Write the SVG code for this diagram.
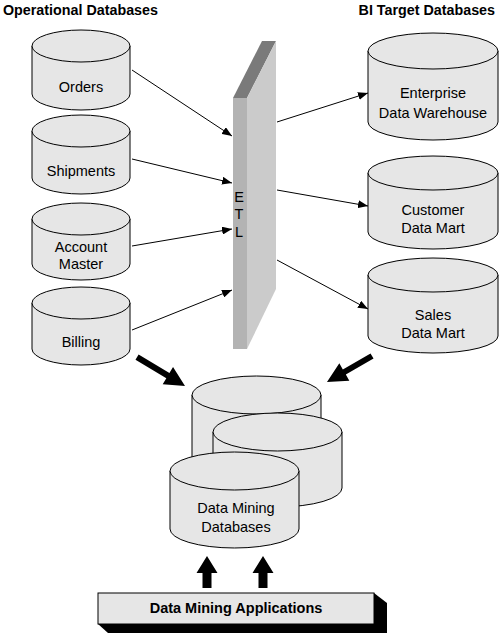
<svg xmlns="http://www.w3.org/2000/svg" width="500" height="634" viewBox="0 0 500 634">
<defs>
<style>
.cyl{fill:#e6e6e6;stroke:#000;stroke-width:1}
.lbl{font-family:"Liberation Sans",Arial,sans-serif;font-size:14.5px;text-anchor:middle;fill:#000}
.hdr{font-family:"Liberation Sans",Arial,sans-serif;font-size:14.3px;font-weight:bold;fill:#000}
.ln{stroke:#000;stroke-width:1;fill:none}
.big{fill:#000}
</style>
<marker id="ah" viewBox="0 0 10 8" refX="10" refY="4" markerWidth="10" markerHeight="8" markerUnits="userSpaceOnUse" orient="auto">
<path d="M0,0 L10,4 L0,8 Z" fill="#000"/>
</marker>
</defs>
<rect width="500" height="634" fill="#fff"/>
<text class="hdr" x="3" y="15">Operational Databases</text>
<text class="hdr" x="495" y="15" text-anchor="end">BI Target Databases</text>

<g id="orders">
<path class="cyl" d="M32,46 V94 A49,16 0 0 0 130,94 V46"/>
<ellipse class="cyl" cx="81" cy="46" rx="49" ry="16"/>
<text class="lbl" x="81" y="92">Orders</text>
</g>
<g id="shipments">
<path class="cyl" d="M32,131 V178 A49,16 0 0 0 130,178 V131"/>
<ellipse class="cyl" cx="81" cy="131" rx="49" ry="16"/>
<text class="lbl" x="81" y="176">Shipments</text>
</g>
<g id="account-master">
<path class="cyl" d="M32,219 V264 A49,16 0 0 0 130,264 V219"/>
<ellipse class="cyl" cx="81" cy="219" rx="49" ry="16"/>
<text class="lbl" x="81" y="252">Account</text>
<text class="lbl" x="81" y="269">Master</text>
</g>
<g id="billing">
<path class="cyl" d="M32,303 V349 A49,16 0 0 0 130,349 V303"/>
<ellipse class="cyl" cx="81" cy="303" rx="49" ry="16"/>
<text class="lbl" x="81" y="347">Billing</text>
</g>

<g id="etl">
<polygon points="233,98 247,98 276,41 262,41" fill="#7a7a7a"/>
<polygon points="247,98 276,41 276,289 247,349" fill="#cbcbcb"/>
<rect x="233" y="98" width="14" height="251" fill="#b3b3b3"/>
<text class="lbl" x="239" y="202" font-size="14">E</text>
<text class="lbl" x="239" y="219" font-size="14">T</text>
<text class="lbl" x="239" y="237" font-size="14">L</text>
</g>

<g id="edw">
<path class="cyl" d="M368,51 V122 A65,18 0 0 0 498,122 V51"/>
<ellipse class="cyl" cx="433" cy="51" rx="65" ry="18"/>
<text class="lbl" x="433" y="98">Enterprise</text>
<text class="lbl" x="433" y="118">Data Warehouse</text>
</g>
<g id="customer-dm">
<path class="cyl" d="M368,173 V232 A65,17 0 0 0 498,232 V173"/>
<ellipse class="cyl" cx="433" cy="173" rx="65" ry="17"/>
<text class="lbl" x="433" y="215">Customer</text>
<text class="lbl" x="433" y="233">Data Mart</text>
</g>
<g id="sales-dm">
<path class="cyl" d="M368,275 V336 A65,17 0 0 0 498,336 V275"/>
<ellipse class="cyl" cx="433" cy="275" rx="65" ry="17"/>
<text class="lbl" x="433" y="320">Sales</text>
<text class="lbl" x="433" y="338">Data Mart</text>
</g>

<g id="dm-databases">
<path class="cyl" d="M192,395 V470 A64.5,19 0 0 0 321,470 V395"/>
<ellipse class="cyl" cx="256.5" cy="395" rx="64.5" ry="19"/>
<path class="cyl" d="M213,432 V488 A64.5,19 0 0 0 342,488 V432"/>
<ellipse class="cyl" cx="277.5" cy="432" rx="64.5" ry="19"/>
<path class="cyl" d="M170,471 V529 A64.5,19 0 0 0 299,529 V471"/>
<ellipse class="cyl" cx="234.5" cy="471" rx="64.5" ry="19"/>
<text class="lbl" x="236" y="513">Data Mining</text>
<text class="lbl" x="236" y="532">Databases</text>
</g>

<g id="dm-apps">
<polygon points="374,593 387,603 387,633 108,633 98,624" fill="#000"/>
<rect x="98" y="593" width="276" height="31" fill="#e6e6e6" stroke="#000" stroke-width="1"/>
<text class="lbl" x="236" y="613" font-weight="bold">Data Mining Applications</text>
</g>

<g id="connectors">
<line class="ln" x1="132" y1="70" x2="232" y2="136" marker-end="url(#ah)"/>
<line class="ln" x1="132" y1="159" x2="232" y2="183" marker-end="url(#ah)"/>
<line class="ln" x1="132" y1="246" x2="232" y2="229" marker-end="url(#ah)"/>
<line class="ln" x1="132" y1="330" x2="232" y2="290" marker-end="url(#ah)"/>
<line class="ln" x1="277" y1="122" x2="368" y2="93" marker-end="url(#ah)"/>
<line class="ln" x1="277" y1="190" x2="368" y2="206" marker-end="url(#ah)"/>
<line class="ln" x1="277" y1="260" x2="368" y2="309" marker-end="url(#ah)"/>
<g transform="translate(185,386) rotate(31.1)">
<path class="big" d="M0,0 L-20,-10 L-20,-3 L-56,-3 L-56,3 L-20,3 L-20,10 Z"/>
</g>
<g transform="translate(327,382) rotate(150)">
<path class="big" d="M0,0 L-20,-10 L-20,-3 L-52,-3 L-52,3 L-20,3 L-20,10 Z"/>
</g>
<path class="big" d="M207,556 L217.5,573 L211.5,573 L211.5,588 L202.5,588 L202.5,573 L196.5,573 Z"/>
<path class="big" d="M263,556 L273.5,573 L267.5,573 L267.5,588 L258.5,588 L258.5,573 L252.5,573 Z"/>
</g>
</svg>
